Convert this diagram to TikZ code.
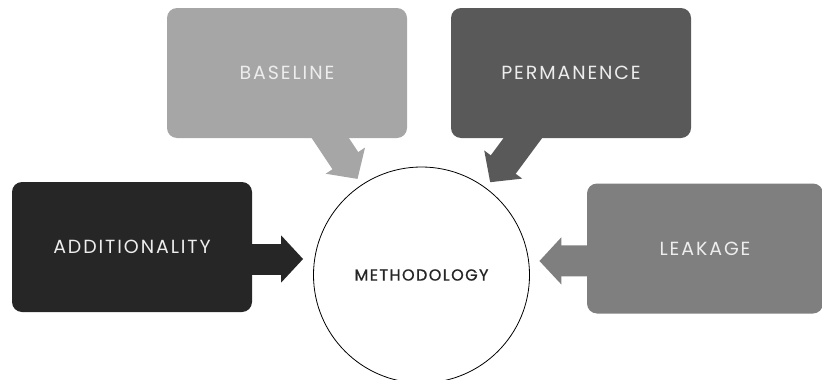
\documentclass[tikz,border=0pt]{standalone}
\usepackage{fontspec}
\setmainfont{Poppins}
\newfontfamily\topicfont[LetterSpace=10]{Poppins}
\newfontfamily\methodfont[LetterSpace=9,FakeBold=0.9]{Poppins}
\usetikzlibrary{arrows.meta,backgrounds}
\definecolor{baselinegray}{HTML}{A6A6A6}
\definecolor{permgray}{HTML}{595959}
\definecolor{addgray}{HTML}{262626}
\definecolor{leakgray}{HTML}{7F7F7F}
\definecolor{labelgray}{HTML}{EDEDED}

\begin{document}
\begin{tikzpicture}[x=1pt,y=-1pt,
    topic/.style={rounded corners=10pt,minimum width=240pt,minimum height=130pt,
      inner sep=0pt,text=labelgray,font=\topicfont\fontsize{19}{22}\selectfont},
    bigarrow/.style={line width=31pt,-{Triangle[width=46pt,length=22pt]}}]
  \useasboundingbox (0,0) rectangle (822,380);

  % centre
  \node[circle,draw=black,line width=0.8pt,fill=white,minimum size=216pt,inner sep=0pt,
    text=black!85,font=\methodfont\fontsize{16}{19}\selectfont] (method) at (421.5,275) {METHODOLOGY};

  % the four topics
  \node[topic,fill=baselinegray] (baseline) at (287,73) {BASELINE};
  \node[topic,fill=permgray] (permanence) at (571,73) {PERMANENCE};
  \node[topic,fill=addgray] (additionality) at (132,247) {ADDITIONALITY};
  \node[topic,fill=leakgray,minimum width=236pt] (leakage) at (705,248.5) {LEAKAGE};

  \begin{scope}[on background layer]
    \draw[bigarrow,baselinegray,shorten >=7pt] (baseline.center) -- (method);
    \draw[bigarrow,permgray,shorten >=7pt] (permanence.center) -- (method);
    \draw[bigarrow,addgray] ([yshift=-12pt]additionality.center) -- ([xshift=-10pt,yshift=16pt]method.west);
    \draw[bigarrow,leakgray] ([yshift=-12pt]leakage.center) -- ([xshift=9.5pt,yshift=14pt]method.east);
  \end{scope}
\end{tikzpicture}
\end{document}
